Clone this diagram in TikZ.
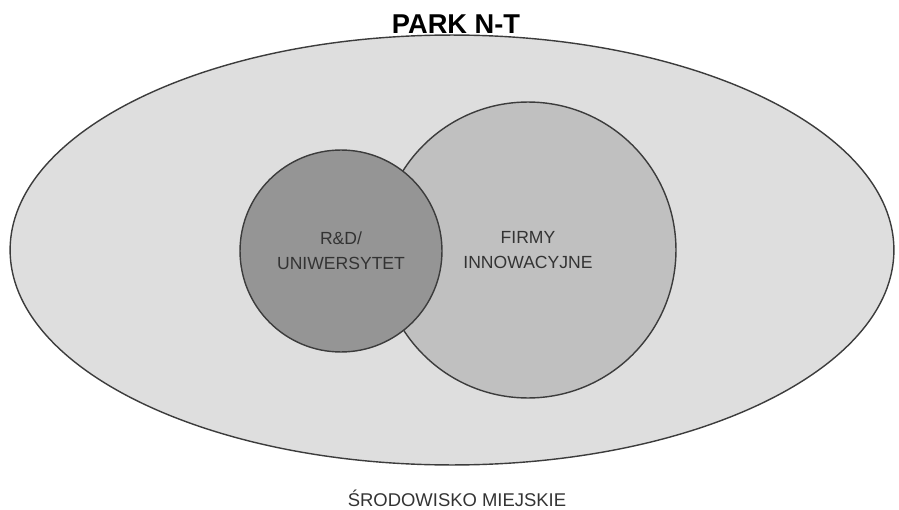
\documentclass[tikz,border=0pt]{standalone}
\usepackage{fontspec}
\setmainfont{Liberation Sans}
\usetikzlibrary{shapes.geometric}
\definecolor{tlo}{HTML}{DEDEDE}
\definecolor{firmy}{HTML}{C0C0C0}
\definecolor{uczelnia}{HTML}{959595}
\definecolor{obrys}{HTML}{3C3C3C}
\begin{document}
\begin{tikzpicture}[x=0.02cm, y=-0.02cm,
        kolo/.style={circle, draw=obrys, line width=0.8pt, align=center, inner sep=0pt,
            font=\fontsize{10}{14}\selectfont, text=black!80},
        napis/.style={anchor=base, inner sep=0pt}]
        \useasboundingbox (0,0) rectangle (899,510);

        % Park
        \node[ellipse, draw=obrys, fill=tlo, line width=0.8pt, minimum width=17.68cm,
            minimum height=8.6cm] (park) at (452,250) {};

        % Firmy i uczelnia
        \node[kolo, fill=firmy, minimum size=5.92cm] (firmy) at (528,250) {FIRMY\\INNOWACYJNE};
        \node[kolo, fill=uczelnia, minimum size=4.04cm] (rd) at (341,251) {R\&D/\\UNIWERSYTET};

        % Napisy
        \node[napis, font=\bfseries\fontsize{15.5}{18}\selectfont] (tytul) at (456,34) {PARK N-T};
        \node[napis, font=\fontsize{10.5}{12}\selectfont, text=black!80] (miasto) at (457,506) {ŚRODOWISKO MIEJSKIE};
    \end{tikzpicture}
\end{document}
